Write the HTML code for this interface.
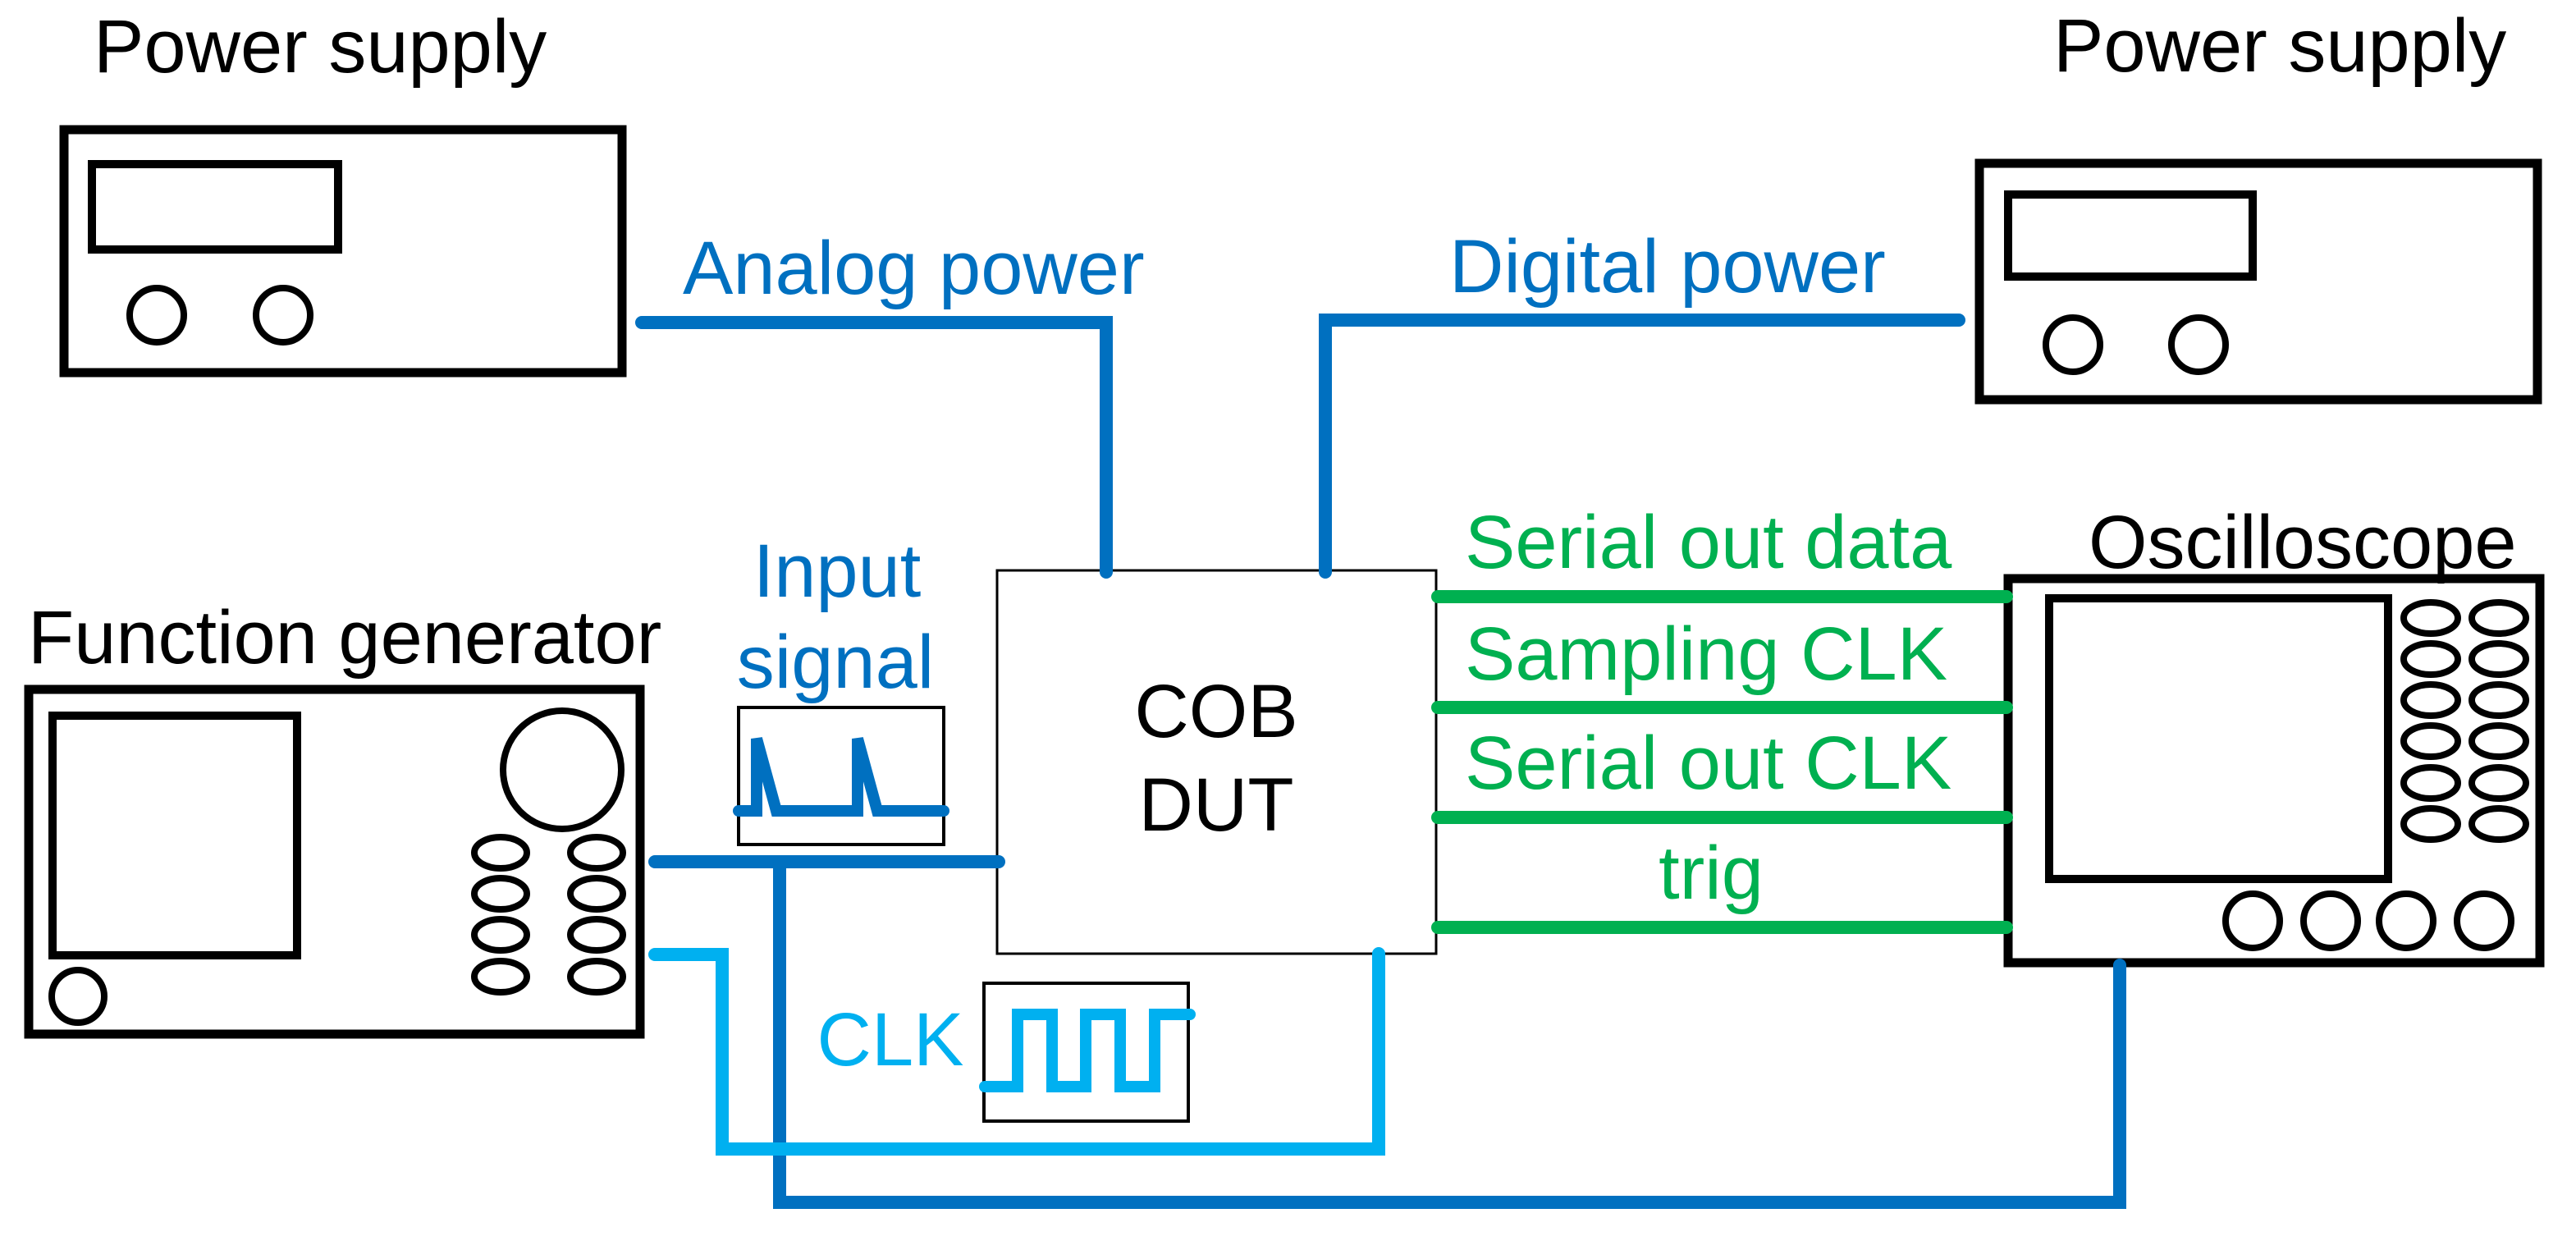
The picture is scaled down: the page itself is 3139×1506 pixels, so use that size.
<!DOCTYPE html>
<html><head><meta charset="utf-8"><style>
html,body{margin:0;padding:0;background:#fff}
svg{display:block}
text{font-family:"Liberation Sans",Arial,sans-serif;font-size:92px}
</style></head><body>
<svg width="3139" height="1506" viewBox="0 0 3139 1506" xmlns="http://www.w3.org/2000/svg">
<rect width="3139" height="1506" fill="#fff"/>
<g fill="none" stroke="#000" stroke-width="11">
<!-- left power supply -->
<rect x="78" y="158" width="680" height="296"/>
<rect x="112" y="200" width="300" height="104" stroke-width="10"/>
<circle cx="191" cy="384" r="33" stroke-width="8"/>
<circle cx="345" cy="384" r="33" stroke-width="8"/>
<!-- right power supply -->
<rect x="2412" y="199" width="680" height="288"/>
<rect x="2447" y="237" width="298" height="100" stroke-width="10"/>
<circle cx="2526" cy="420" r="33" stroke-width="8"/>
<circle cx="2679" cy="420" r="33" stroke-width="8"/>
<!-- function generator -->
<rect x="35" y="840" width="745" height="420"/>
<rect x="64" y="872" width="298" height="292" stroke-width="10"/>
<circle cx="685" cy="938" r="72" stroke-width="8"/>
<g stroke-width="8">
<ellipse cx="610" cy="1039" rx="32" ry="19"/><ellipse cx="727" cy="1039" rx="32" ry="19"/>
<ellipse cx="610" cy="1089" rx="32" ry="19"/><ellipse cx="727" cy="1089" rx="32" ry="19"/>
<ellipse cx="610" cy="1139" rx="32" ry="19"/><ellipse cx="727" cy="1139" rx="32" ry="19"/>
<ellipse cx="610" cy="1190" rx="32" ry="19"/><ellipse cx="727" cy="1190" rx="32" ry="19"/>
<circle cx="95" cy="1214" r="32"/>
</g>
<!-- oscilloscope -->
<rect x="2447" y="705" width="648" height="468"/>
<rect x="2497" y="729" width="413" height="342" stroke-width="10"/>
<g stroke-width="8">
<ellipse cx="2962" cy="753" rx="33" ry="19"/><ellipse cx="3045" cy="753" rx="33" ry="19"/>
<ellipse cx="2962" cy="803" rx="33" ry="19"/><ellipse cx="3045" cy="803" rx="33" ry="19"/>
<ellipse cx="2962" cy="853" rx="33" ry="19"/><ellipse cx="3045" cy="853" rx="33" ry="19"/>
<ellipse cx="2962" cy="903" rx="33" ry="19"/><ellipse cx="3045" cy="903" rx="33" ry="19"/>
<ellipse cx="2962" cy="954" rx="33" ry="19"/><ellipse cx="3045" cy="954" rx="33" ry="19"/>
<ellipse cx="2962" cy="1004" rx="33" ry="19"/><ellipse cx="3045" cy="1004" rx="33" ry="19"/>
<circle cx="2745" cy="1122" r="33"/><circle cx="2840" cy="1122" r="33"/>
<circle cx="2932" cy="1122" r="33"/><circle cx="3027" cy="1122" r="33"/>
</g>
<!-- COB DUT & small boxes -->
<rect x="1215" y="695" width="535" height="467" stroke-width="3"/>
<rect x="900" y="862" width="250" height="167" stroke-width="4"/>
<rect x="1199" y="1198" width="249" height="168" stroke-width="4"/>
</g>
<!-- connectors -->
<g fill="none" stroke-linecap="round" stroke-linejoin="miter" stroke-width="16">
<polyline points="782,393 1348,393 1348,697" stroke="#0070C0"/>
<polyline points="2387,390 1615,390 1615,697" stroke="#0070C0"/>
<line x1="798" y1="1050" x2="1217" y2="1050" stroke="#0070C0"/>
<polyline points="950,1053 950,1465 2583,1465 2583,1176" stroke="#0070C0"/>
<polyline points="798,1163 880,1163 880,1400 1680,1400 1680,1162" stroke="#00B0F0"/>
<g stroke="#00B050">
<line x1="1752" y1="727" x2="2445" y2="727"/>
<line x1="1752" y1="862" x2="2445" y2="862"/>
<line x1="1752" y1="996" x2="2445" y2="996"/>
<line x1="1752" y1="1130" x2="2445" y2="1130"/>
</g>
<polyline points="900,988 922,988 922,900 946,988 1045,988 1045,900 1069,988 1150,988" stroke="#0070C0" stroke-width="14"/>
<polyline points="1200,1324 1240,1324 1240,1236 1282,1236 1282,1324 1323,1324 1323,1236 1365,1236 1365,1324 1407,1324 1407,1236 1450,1236" stroke="#00B0F0" stroke-width="14"/>
</g>
<!-- labels -->
<text x="114" y="88" fill="#000">Power supply</text>
<text x="2502" y="87" fill="#000">Power supply</text>
<text x="832" y="358" fill="#0070C0">Analog power</text>
<text x="1766" y="356" fill="#0070C0">Digital power</text>
<text x="34" y="808" fill="#000">Function generator</text>
<text x="2545" y="692" fill="#000">Oscilloscope</text>
<text x="1020" y="727" fill="#0070C0" text-anchor="middle">Input</text>
<text x="1018" y="838" fill="#0070C0" text-anchor="middle">signal</text>
<text x="1085" y="1298" fill="#00B0F0" text-anchor="middle">CLK</text>
<text x="1482" y="898" fill="#000" text-anchor="middle">COB</text>
<text x="1482" y="1012" fill="#000" text-anchor="middle">DUT</text>
<g fill="#00B050">
<text x="1785" y="692">Serial out data</text>
<text x="1785" y="828">Sampling CLK</text>
<text x="1785" y="961">Serial out CLK</text>
<text x="2085" y="1095" text-anchor="middle">trig</text>
</g>
</svg>
</body></html>
